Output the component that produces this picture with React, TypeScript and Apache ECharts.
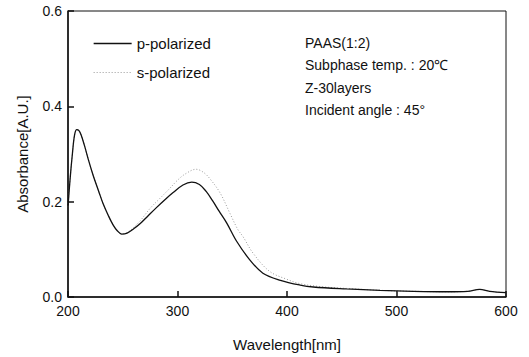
import React, { useEffect, useRef } from "react";
import * as echarts from "echarts";

const wavelengthP = [200, 202, 204, 206, 208, 210, 212, 215, 219, 223, 228, 232, 237, 241, 245, 249, 254, 260, 266, 273, 281, 288, 296, 305, 313, 320, 326, 332, 338, 345, 354, 366, 378, 394, 412, 424, 454, 485, 515, 546, 565, 576, 585, 600];
const absorbanceP = [0.19, 0.25, 0.3, 0.34, 0.351, 0.349, 0.34, 0.318, 0.285, 0.255, 0.222, 0.196, 0.17, 0.152, 0.139, 0.132, 0.134, 0.143, 0.154, 0.17, 0.188, 0.203, 0.219, 0.235, 0.241, 0.236, 0.222, 0.202, 0.18, 0.155, 0.117, 0.078, 0.05, 0.035, 0.025, 0.021, 0.017, 0.014, 0.012, 0.011, 0.012, 0.016, 0.012, 0.009];

const wavelengthS = [200, 202, 204, 206, 208, 210, 212, 215, 219, 223, 228, 232, 237, 241, 245, 249, 254, 260, 266, 275, 284, 293, 300, 307, 317, 324, 330, 339, 348, 355, 360, 369, 384, 400, 412, 430, 454, 485, 515, 546, 565, 576, 585, 600];
const absorbanceS = [0.19, 0.25, 0.3, 0.34, 0.351, 0.349, 0.34, 0.318, 0.285, 0.255, 0.222, 0.196, 0.17, 0.152, 0.139, 0.132, 0.135, 0.146, 0.16, 0.186, 0.207, 0.228, 0.245, 0.258, 0.268, 0.261, 0.247, 0.218, 0.175, 0.142, 0.126, 0.092, 0.054, 0.037, 0.028, 0.022, 0.018, 0.014, 0.012, 0.011, 0.012, 0.016, 0.012, 0.009];

const seriesNames = ["p-polarized", "s-polarized"];
const annotations = ["PAAS(1:2)", "Subphase temp. : 20℃", "Z-30layers", "Incident angle : 45°"];
const xTicks = { min: 200, max: 600, interval: 100 };
const yTicks = { min: 0, max: 0.6, interval: 0.2 };

const FONT = "'Liberation Sans', Arial, sans-serif";

export default function App() {
  const ref = useRef<HTMLDivElement>(null);
  useEffect(() => {
    if (!ref.current) return;
    const chart = echarts.init(ref.current, null, { renderer: "svg" });
    const pData = wavelengthP.map((w, i) => [w, absorbanceP[i]]);
    const sData = wavelengthS.map((w, i) => [w, absorbanceS[i]]);
    chart.setOption({
      animation: false,
      backgroundColor: "#fff",
      textStyle: { fontFamily: FONT },
      grid: {
        left: 68,
        right: 23,
        top: 11,
        bottom: 56,
        show: true,
        borderColor: "#111",
        borderWidth: 1,
      },
      legend: {
        orient: "vertical",
        left: 88,
        top: 31,
        itemWidth: 38,
        itemHeight: 10,
        itemGap: 14,
        textStyle: { fontSize: 15, color: "#111", fontFamily: FONT },
        data: [
          {
            name: seriesNames[0],
            itemStyle: { opacity: 0 },
            lineStyle: { color: "#111", width: 1.3, type: "solid" },
          },
          {
            name: seriesNames[1],
            itemStyle: { opacity: 0 },
            lineStyle: { color: "#9a9a9a", width: 1, type: [1, 2] },
          },
        ],
      },
      xAxis: {
        type: "value",
        min: xTicks.min,
        max: xTicks.max,
        interval: xTicks.interval,
        name: "Wavelength[nm]",
        nameLocation: "middle",
        nameGap: 40,
        nameTextStyle: { fontSize: 15, color: "#111", fontFamily: FONT },
        axisLine: { lineStyle: { color: "#111", width: 1.5 } },
        axisTick: { inside: true, length: 6, lineStyle: { color: "#111", width: 1.5 } },
        axisLabel: { fontSize: 14, color: "#111", margin: 7, fontFamily: FONT },
        splitLine: { show: false },
      },
      yAxis: {
        type: "value",
        min: yTicks.min,
        max: yTicks.max,
        interval: yTicks.interval,
        name: "Absorbance[A.U.]",
        nameLocation: "middle",
        nameGap: 38,
        nameTextStyle: { fontSize: 15, color: "#111", fontFamily: FONT },
        axisLine: { lineStyle: { color: "#111", width: 1.5 } },
        axisTick: { inside: true, length: 6, lineStyle: { color: "#111", width: 1.5 } },
        axisLabel: {
          fontSize: 14,
          color: "#111",
          margin: 6,
          fontFamily: FONT,
          formatter: (v: number) => v.toFixed(1),
        },
        splitLine: { show: false },
      },
      graphic: annotations.map((t, i) => ({
        type: "text",
        left: 305,
        top: 36 + i * 22.3,
        style: { text: t, fontSize: 14, fill: "#111", fontFamily: FONT },
      })),
      series: [
        {
          name: seriesNames[1],
          type: "line",
          data: sData,
          smooth: 0.35,
          symbol: "none",
          lineStyle: { color: "#9a9a9a", width: 1, type: [1, 2] },
          itemStyle: { color: "#9a9a9a" },
          z: 2,
        },
        {
          name: seriesNames[0],
          type: "line",
          data: pData,
          smooth: 0.35,
          symbol: "none",
          lineStyle: { color: "#111", width: 1.3 },
          itemStyle: { color: "#111" },
          z: 3,
        },
      ],
    });
    return () => chart.dispose();
  }, []);
  return (
    <div
      ref={ref}
      style={{ position: "absolute", left: 0, top: 0, width: 529, height: 357 }}
    />
  );
}
